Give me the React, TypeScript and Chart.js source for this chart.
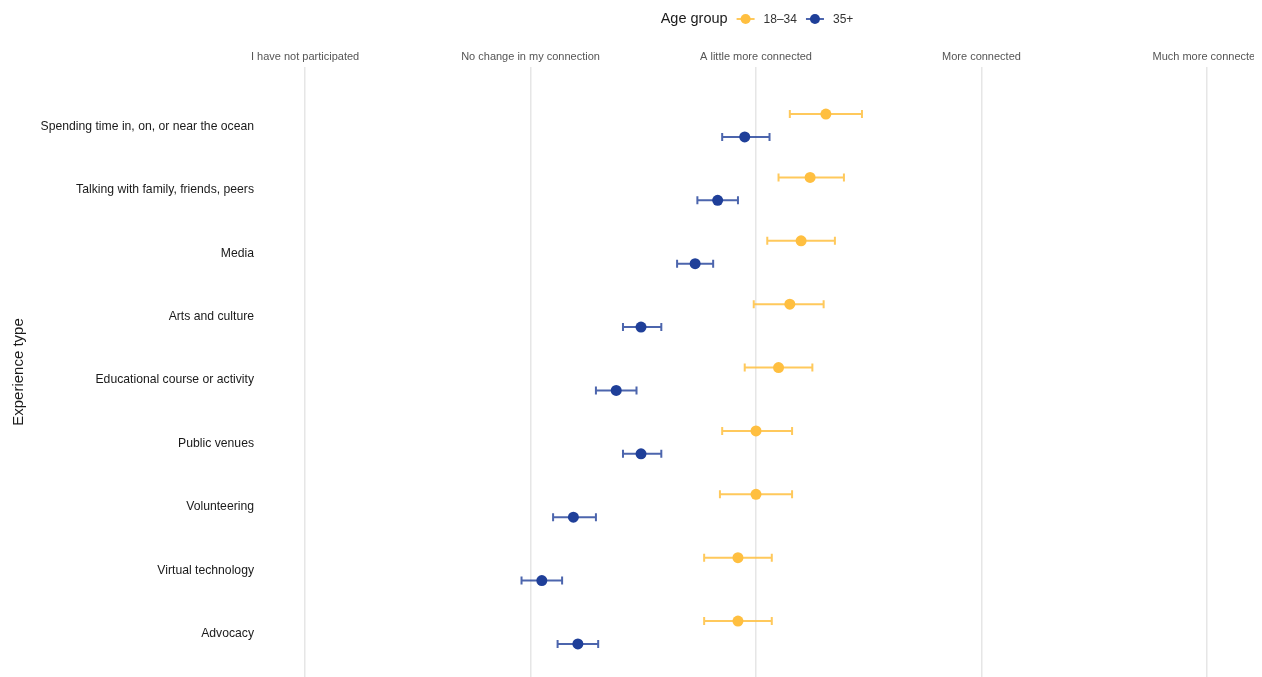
import React, { useEffect, useRef } from "react";
import { Chart, registerables } from "chart.js";

Chart.register(...registerables);

// Rows of the chart, top to bottom
const experienceTypes = [
  "Spending time in, on, or near the ocean",
  "Talking with family, friends, peers",
  "Media",
  "Arts and culture",
  "Educational course or activity",
  "Public venues",
  "Volunteering",
  "Virtual technology",
  "Advocacy",
];

// Response scale (1..5) shown along the top axis
const responseLevels = [
  "I have not participated",
  "No change in my connection",
  "A little more connected",
  "More connected",
  "Much more connected",
];

const ageGroups = ["18–34", "35+"];

// Mean response and interval bounds, 18–34
const youngMean = [3.31, 3.24, 3.2, 3.15, 3.1, 3.0, 3.0, 2.92, 2.92];
const youngLow = [3.15, 3.1, 3.05, 2.99, 2.95, 2.85, 2.84, 2.77, 2.77];
const youngHigh = [3.47, 3.39, 3.35, 3.3, 3.25, 3.16, 3.16, 3.07, 3.07];

// Mean response and interval bounds, 35+
const olderMean = [2.95, 2.83, 2.73, 2.49, 2.38, 2.49, 2.19, 2.05, 2.21];
const olderLow = [2.85, 2.74, 2.65, 2.41, 2.29, 2.41, 2.1, 1.96, 2.12];
const olderHigh = [3.06, 2.92, 2.81, 2.58, 2.47, 2.58, 2.29, 2.14, 2.3];

const FONT = "'Liberation Sans', Arial, Helvetica, sans-serif";
const YOUNG_COLOR = "#FFBF40";
const OLDER_COLOR = "#1F3F99";
const YOUNG_BAR = "rgba(255, 191, 64, 0.85)";
const OLDER_BAR = "rgba(31, 63, 153, 0.8)";
const ROW_SHIFT = 0.18;

// Horizontal interval whiskers with end caps, drawn under the points
const errorBarPlugin = {
  id: "errorBars",
  beforeDatasetsDraw(chart: any) {
    const { ctx } = chart;
    const xs = chart.scales.x;
    const ys = chart.scales.y;
    chart.data.datasets.forEach((ds: any) => {
      const lows: number[] = ds.errLow;
      const highs: number[] = ds.errHigh;
      ctx.save();
      ctx.strokeStyle = ds.barColor;
      ctx.lineWidth = 2;
      ds.data.forEach((pt: any, i: number) => {
        const y = ys.getPixelForValue(pt.y);
        const x1 = xs.getPixelForValue(lows[i]);
        const x2 = xs.getPixelForValue(highs[i]);
        ctx.beginPath();
        ctx.moveTo(x1, y);
        ctx.lineTo(x2, y);
        ctx.moveTo(x1, y - 4);
        ctx.lineTo(x1, y + 4);
        ctx.moveTo(x2, y - 4);
        ctx.lineTo(x2, y + 4);
        ctx.stroke();
      });
      ctx.restore();
    });
  },
};

// Single-row legend with an inline title, centred over the plot
const inlineLegendPlugin = {
  id: "inlineLegend",
  afterDraw(chart: any) {
    const { ctx, chartArea } = chart;
    const titleFont = `14.5px ${FONT}`;
    const itemFont = `12px ${FONT}`;
    const title = "Age group";
    const symbolW = 18;
    const gapAfterTitle = 9;
    const gapSymbolText = 9;
    const gapBetween = 9;
    ctx.save();
    ctx.font = titleFont;
    const titleW = ctx.measureText(title).width;
    ctx.font = itemFont;
    const itemWs = chart.data.datasets.map((ds: any) => ctx.measureText(ds.label).width);
    let total = titleW + gapAfterTitle;
    itemWs.forEach((w: number, i: number) => {
      total += symbolW + gapSymbolText + w + (i < itemWs.length - 1 ? gapBetween : 0);
    });
    let x = (chartArea.left + chartArea.right) / 2 - total / 2 + 1;
    const y = 11;
    ctx.textBaseline = "middle";
    ctx.textAlign = "left";
    ctx.fillStyle = "#1A1A1A";
    ctx.font = titleFont;
    ctx.fillText(title, x, y);
    x += titleW + gapAfterTitle;
    chart.data.datasets.forEach((ds: any, i: number) => {
      ctx.strokeStyle = ds.barColor;
      ctx.lineWidth = 2;
      ctx.beginPath();
      ctx.moveTo(x, y);
      ctx.lineTo(x + symbolW, y);
      ctx.stroke();
      ctx.fillStyle = ds.backgroundColor;
      ctx.beginPath();
      ctx.arc(x + symbolW / 2, y, 5, 0, Math.PI * 2);
      ctx.fill();
      x += symbolW + gapSymbolText;
      ctx.fillStyle = "#333333";
      ctx.font = itemFont;
      ctx.fillText(ds.label, x, y + 0.5);
      x += itemWs[i] + gapBetween;
    });
    ctx.restore();
  },
};

export default function App() {
  const canvasRef = useRef<HTMLCanvasElement | null>(null);

  useEffect(() => {
    document.documentElement.style.overflow = "hidden";
    const canvas = canvasRef.current;
    if (!canvas) return;

    const chart = new Chart(canvas, {
      type: "scatter",
      data: {
        datasets: [
          {
            label: ageGroups[0],
            data: youngMean.map((v, i) => ({ x: v, y: i - ROW_SHIFT })),
            backgroundColor: YOUNG_COLOR,
            borderWidth: 0,
            pointRadius: 5.5,
            pointHoverRadius: 5.5,
            errLow: youngLow,
            errHigh: youngHigh,
            barColor: YOUNG_BAR,
          } as any,
          {
            label: ageGroups[1],
            data: olderMean.map((v, i) => ({ x: v, y: i + ROW_SHIFT })),
            backgroundColor: OLDER_COLOR,
            borderWidth: 0,
            pointRadius: 5.5,
            pointHoverRadius: 5.5,
            errLow: olderLow,
            errHigh: olderHigh,
            barColor: OLDER_BAR,
          } as any,
        ],
      },
      options: {
        animation: false,
        responsive: true,
        maintainAspectRatio: false,
        layout: { autoPadding: false, padding: { top: 30, right: 2, bottom: 0, left: 0 } },
        plugins: {
          legend: { display: false },
          tooltip: { enabled: false },
        },
        scales: {
          x: {
            type: "linear",
            position: "top",
            min: 0.8,
            max: 5.2,
            afterBuildTicks: (s: any) => {
              s.ticks = responseLevels.map((_, i) => ({ value: i + 1 }));
            },
            afterFit: (s: any) => {
              s.height = 29;
              s.paddingLeft = 0;
              s.paddingRight = 0;
            },
            ticks: {
              callback: (v: any) => responseLevels[Math.round(v) - 1] ?? "",
              font: { family: FONT, size: 11 },
              color: "#555555",
              padding: 3,
              maxRotation: 0,
              minRotation: 0,
              autoSkip: false,
            },
            grid: { color: "#E6E6E6", lineWidth: 1.5, drawTicks: false },
            border: { display: false },
          },
          y: {
            type: "linear",
            reverse: true,
            min: -0.923,
            max: 8.702,
            afterBuildTicks: (s: any) => {
              s.ticks = experienceTypes.map((_, i) => ({ value: i }));
            },
            afterFit: (s: any) => {
              s.width = 252;
              s.paddingTop = 0;
              s.paddingBottom = 0;
            },
            ticks: {
              callback: (v: any) => experienceTypes[Math.round(v)] ?? "",
              font: { family: FONT, size: 12.2 },
              color: "#1A1A1A",
              padding: 6,
              labelOffset: 1,
              autoSkip: false,
            },
            grid: { display: false, drawTicks: false },
            border: { display: false },
            title: {
              display: true,
              text: "Experience type",
              font: { family: FONT, size: 15 },
              color: "#1A1A1A",
              padding: { top: 2, bottom: 0 },
            },
          },
        },
      },
      plugins: [errorBarPlugin, inlineLegendPlugin],
    });

    return () => chart.destroy();
  }, []);

  return (
    <div style={{ position: "relative", width: 1246, height: 669 }}>
      <canvas ref={canvasRef} />
    </div>
  );
}
